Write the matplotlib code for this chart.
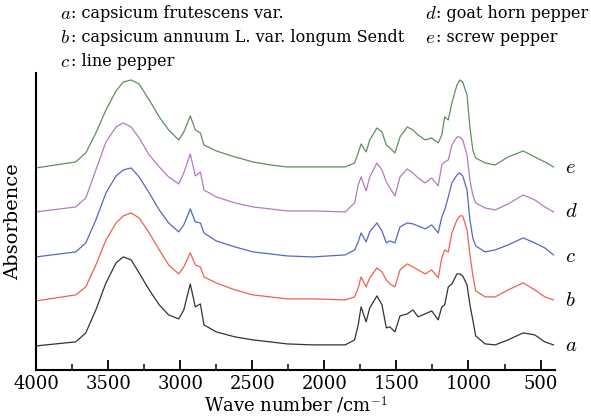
import numpy as np
import matplotlib
matplotlib.use('Agg')
import matplotlib.pyplot as plt
from matplotlib.ticker import MultipleLocator

plt.rcParams['font.family'] = ['DejaVu Serif']
plt.rcParams['mathtext.fontset'] = 'cm'

# FTIR spectra: wave number (cm-1) and absorbance of each sample above its own baseline
wavenumber = [4000, 3725, 3655, 3585, 3515, 3445, 3395, 3340, 3285, 3215,
              3145, 3080, 3010, 2975, 2930, 2895, 2860, 2835, 2750, 2620,
              2495, 2375, 2260, 2080, 1855, 1790, 1765, 1745, 1710, 1685,
              1635, 1600, 1570, 1545, 1510, 1475, 1425, 1385, 1350, 1300,
              1255, 1210, 1185, 1165, 1140, 1115, 1080, 1060, 1040, 1010,
              990, 970, 950, 885, 815, 725, 620, 540, 470, 410]

spec_a = [0.00, 0.04, 0.13, 0.36, 0.63, 0.83, 0.89, 0.86, 0.73, 0.56,
          0.41, 0.31, 0.27, 0.36, 0.62, 0.39, 0.42, 0.21, 0.14, 0.09,
          0.06, 0.04, 0.02, 0.01, 0.01, 0.06, 0.21, 0.39, 0.24, 0.38,
          0.50, 0.41, 0.18, 0.19, 0.14, 0.30, 0.32, 0.36, 0.29, 0.32,
          0.35, 0.26, 0.39, 0.41, 0.59, 0.62, 0.72, 0.72, 0.70, 0.61,
          0.41, 0.26, 0.10, 0.02, 0.01, 0.06, 0.13, 0.11, 0.04, 0.01]
spec_b = [0.00, 0.06, 0.14, 0.36, 0.61, 0.78, 0.85, 0.88, 0.83, 0.68,
          0.51, 0.36, 0.27, 0.34, 0.48, 0.36, 0.34, 0.24, 0.18, 0.11,
          0.06, 0.04, 0.02, 0.02, 0.01, 0.04, 0.13, 0.24, 0.14, 0.23,
          0.33, 0.29, 0.21, 0.17, 0.14, 0.31, 0.37, 0.34, 0.31, 0.27,
          0.31, 0.23, 0.43, 0.51, 0.49, 0.68, 0.81, 0.85, 0.85, 0.71,
          0.46, 0.26, 0.10, 0.04, 0.04, 0.11, 0.18, 0.11, 0.04, 0.01]
spec_c = [0.00, 0.05, 0.14, 0.37, 0.64, 0.81, 0.87, 0.89, 0.80, 0.64,
          0.47, 0.34, 0.25, 0.32, 0.48, 0.35, 0.34, 0.24, 0.16, 0.10,
          0.05, 0.03, 0.01, 0.00, 0.02, 0.07, 0.15, 0.24, 0.15, 0.25,
          0.34, 0.26, 0.14, 0.16, 0.14, 0.30, 0.34, 0.33, 0.31, 0.28,
          0.32, 0.24, 0.40, 0.47, 0.60, 0.74, 0.82, 0.84, 0.81, 0.67,
          0.37, 0.19, 0.11, 0.05, 0.07, 0.12, 0.19, 0.14, 0.09, 0.02]
spec_d = [0.00, 0.05, 0.14, 0.42, 0.70, 0.85, 0.89, 0.85, 0.74, 0.57,
          0.45, 0.35, 0.28, 0.39, 0.58, 0.36, 0.40, 0.22, 0.15, 0.09,
          0.05, 0.03, 0.01, 0.01, 0.00, 0.09, 0.27, 0.35, 0.21, 0.35,
          0.49, 0.42, 0.30, 0.24, 0.16, 0.35, 0.43, 0.39, 0.34, 0.29,
          0.34, 0.26, 0.47, 0.50, 0.52, 0.67, 0.75, 0.75, 0.72, 0.57,
          0.32, 0.17, 0.09, 0.04, 0.02, 0.08, 0.17, 0.12, 0.05, 0.00]
spec_e = [0.00, 0.06, 0.15, 0.35, 0.58, 0.77, 0.86, 0.88, 0.84, 0.68,
          0.51, 0.38, 0.28, 0.36, 0.52, 0.38, 0.35, 0.23, 0.17, 0.11,
          0.06, 0.03, 0.01, 0.01, 0.01, 0.05, 0.15, 0.24, 0.16, 0.28,
          0.40, 0.36, 0.23, 0.20, 0.15, 0.31, 0.41, 0.38, 0.33, 0.28,
          0.30, 0.25, 0.33, 0.51, 0.48, 0.65, 0.83, 0.88, 0.86, 0.73,
          0.41, 0.18, 0.10, 0.05, 0.03, 0.11, 0.17, 0.11, 0.06, 0.01]

labels = ['a', 'b', 'c', 'd', 'e']
offsets = [0.24, 0.69, 1.13, 1.58, 2.02]
colors = ['#333333', '#f0604e', '#5468c4', '#b877c6', '#5e8f5e']
names = ['capsicum frutescens var.', 'capsicum annuum L. var. longum Sendt',
         'line pepper', 'goat horn pepper', 'screw pepper']

fig = plt.figure(figsize=(5.91, 4.17), dpi=100)
ax = fig.add_axes([0.061, 0.113, 0.878, 0.712])

spectra = [spec_a, spec_b, spec_c, spec_d, spec_e]
for i in range(5):
    ax.plot(wavenumber, np.array(spectra[i]) + offsets[i], color=colors[i], lw=0.9)
    ax.text(330, offsets[i], '$' + labels[i] + '$', fontsize=15,
            ha='left', va='center', clip_on=False)

ax.set_xlim(4000, 400)
ax.set_ylim(0, 2.97)
ax.xaxis.set_major_locator(MultipleLocator(500))
ax.xaxis.set_minor_locator(MultipleLocator(250))
ax.tick_params(axis='x', which='major', direction='in', length=7, width=1.3,
               labelsize=13, pad=4)
ax.tick_params(axis='x', which='minor', direction='in', length=4, width=1.1)
ax.set_yticks([])
for s in ['top', 'right']:
    ax.spines[s].set_visible(False)
ax.spines['left'].set_linewidth(1.5)
ax.spines['bottom'].set_linewidth(1.5)
ax.set_xlabel('Wave number /cm$^{-1}$', fontsize=13, labelpad=1)
ax.set_ylabel('Absorbence', fontsize=14, labelpad=10)

# sample key above the axes: italic letter, then the name
rows = [(60, 14), (60, 38), (60, 62), (425, 14), (425, 38)]
for i in range(5):
    x, y = rows[i]
    fig.text(x / 591, 1 - y / 417, '$' + labels[i] + '$', fontsize=13.5,
             ha='left', va='center')
    fig.text((x + 11) / 591, 1 - y / 417, ': ' + names[i],
             fontsize=11.5, ha='left', va='center')

fig.savefig('out.png', dpi=100, facecolor='white')
